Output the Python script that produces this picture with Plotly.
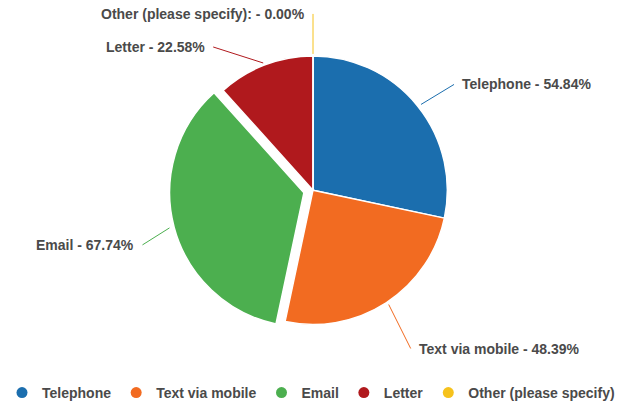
import math
import plotly.graph_objects as go

# ---- data ----
categories = ["Telephone", "Text via mobile", "Email", "Letter", "Other (please specify)"]
label_names = ["Telephone", "Text via mobile", "Email", "Letter", "Other (please specify):"]
percentages = [54.84, 48.39, 67.74, 22.58, 0.00]
colors = ["#1b6eae", "#f26b21", "#4caf4f", "#b0191d", "#f6c21c"]
pulls = [0, 0, 0.07, 0, 0]

# ---- layout geometry (pixels) ----
W, H = 622, 409
cx, cy, R = 313, 194, 137
maxpull = max(pulls)
half = R * (1 + maxpull)
dom_x = [(cx - half) / W, (cx + half) / W]
dom_y = [1 - (cy + half) / H, 1 - (cy - half) / H]

FONT = "Liberation Sans, Arial, sans-serif"

fig = go.Figure()
fig.add_trace(go.Pie(
    labels=categories,
    values=percentages,
    marker=dict(colors=colors, line=dict(color="white", width=1.5)),
    pull=pulls,
    sort=False,
    direction="clockwise",
    rotation=0,
    textinfo="none",
    hoverinfo="label+value",
    showlegend=False,
    domain=dict(x=dom_x, y=dom_y),
))

# legend entries with round markers
for name, col in zip(categories, colors):
    fig.add_trace(go.Scatter(
        x=[None], y=[None], mode="markers", name=name,
        marker=dict(symbol="circle", size=11, color=col),
        showlegend=True, hoverinfo="skip",
    ))

# label placement: (tail dx, tail dy from tip, anchor side)
label_offsets = {
    "Telephone": (33, -20, "left"),
    "Text via mobile": (22, 44, "left"),
    "Email": (-27, 17, "right"),
    "Letter": (-50, -16, "right"),
    "Other (please specify)": (0, -40, "right"),
}

total = sum(percentages)
cum = 0.0
annotations = []
for cat, lab, val, col, p in zip(categories, label_names, percentages, colors, pulls):
    frac = val / total
    theta = 2 * math.pi * (cum + frac / 2)
    cum += frac
    rr = R + 2 + p * R
    tx = cx + rr * math.sin(theta)
    ty = cy - rr * math.cos(theta)
    dx, dy, side = label_offsets[cat]
    annotations.append(dict(
        x=tx / W, y=1 - ty / H, xref="paper", yref="paper",
        ax=dx, ay=dy, axref="pixel", ayref="pixel",
        text=f"{lab} - {val:.2f}%",
        showarrow=True, arrowhead=0, arrowwidth=1, arrowcolor=col,
        xanchor=side, yanchor="middle", borderpad=7,
        font=dict(family=FONT, size=14, color="#4a4a4a", weight="bold"),
    ))

fig.update_layout(
    width=W, height=H,
    margin=dict(l=0, r=0, t=0, b=0),
    paper_bgcolor="white", plot_bgcolor="white",
    xaxis=dict(visible=False), yaxis=dict(visible=False),
    annotations=annotations,
    legend=dict(
        orientation="h", x=0.5, xanchor="center", y=1 - 401 / H, yanchor="middle",
        font=dict(family=FONT, size=14, color="#4a4a4a", weight="bold"),
        itemclick=False, itemdoubleclick=False,
    ),
)

fig.write_html("out.html")
